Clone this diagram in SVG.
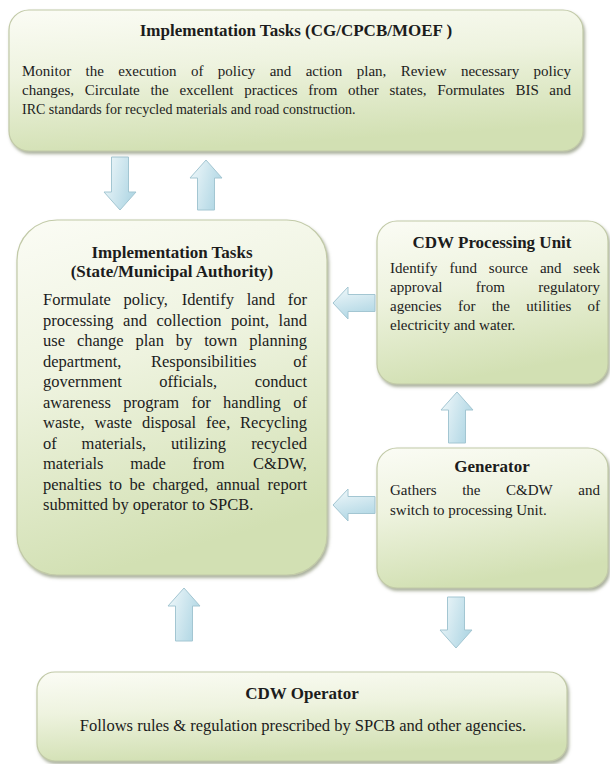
<svg xmlns="http://www.w3.org/2000/svg" width="610" height="764" viewBox="0 0 610 764">
<style>
.box{fill:url(#gb);stroke:#c2caa8;stroke-width:1.2;filter:url(#sh)}
.t{font-family:"Liberation Serif","Times New Roman",serif;font-size:15px;fill:#1c1c1c}
.l{font-size:16.5px}
.h{font-family:"Liberation Serif","Times New Roman",serif;font-size:17px;font-weight:bold;fill:#1c1c1c;text-anchor:middle}
.e{text-anchor:end}
.av{fill:url(#gv);stroke:#a3c6d2;stroke-width:1}
.ah{fill:url(#gh);stroke:#a3c6d2;stroke-width:1}
</style>
<defs>
<linearGradient id="gb" x1="0" y1="0" x2="0.25" y2="1">
<stop offset="0" stop-color="#fbfcf5"/>
<stop offset="0.45" stop-color="#eef3df"/>
<stop offset="1" stop-color="#d2e0b3"/>
</linearGradient>
<linearGradient id="gv" x1="0" y1="0" x2="1" y2="0.4">
<stop offset="0" stop-color="#f2f9fb"/>
<stop offset="1" stop-color="#b3d8e5"/>
</linearGradient>
<linearGradient id="gh" x1="0" y1="0" x2="0.3" y2="1">
<stop offset="0" stop-color="#f2f9fb"/>
<stop offset="1" stop-color="#b3d8e5"/>
</linearGradient>
<filter id="sh" x="-5%" y="-5%" width="112%" height="115%">
<feDropShadow dx="1.5" dy="2.5" stdDeviation="1.5" flood-color="#7d8769" flood-opacity="0.65"/>
</filter>
</defs>

<g id="connectors">
<path class="av" d="M111.5,157 H128.5 V192 H136 L120,210 L104,192 H111.5 Z"/>
<path class="av" d="M197.5,210 H214.5 V178 H222 L206,160 L190,178 H197.5 Z"/>
<path class="ah" d="M375,294.5 V311.5 H348 V319 L333,303 L348,287 V294.5 Z"/>
<path class="ah" d="M375,496.5 V513.5 H348 V521 L333,505 L348,489 V496.5 Z"/>
<path class="av" d="M448.5,443 H465.5 V410 H473 L457,392 L441,410 H448.5 Z"/>
<path class="av" d="M175.5,641 H192.5 V606 H200 L184,588 L168,606 H175.5 Z"/>
<path class="av" d="M447.5,597 H464.5 V630 H472 L456,648 L440,630 H447.5 Z"/>
</g>

<g id="central-tasks">
<rect class="box" x="9" y="10" width="574" height="141" rx="20"/>
<text class="h" x="296" y="36">Implementation Tasks (CG/CPCB/MOEF )</text>
<text class="t" y="76"><tspan x="22">Monitor</tspan><tspan x="85.6">the</tspan><tspan x="118.2">execution</tspan><tspan x="190.9">of</tspan><tspan x="217.8">policy</tspan><tspan x="269.7">and</tspan><tspan x="305.7">action</tspan><tspan x="356.8">plan,</tspan><tspan x="400.7">Review</tspan><tspan x="460.9">necessary</tspan><tspan class="e" x="571">policy</tspan></text>
<text class="t" y="95"><tspan x="22">changes,</tspan><tspan x="84.8">Circulate</tspan><tspan x="150.4">the</tspan><tspan x="179.4">excellent</tspan><tspan x="244.2">practices</tspan><tspan x="308.2">from</tspan><tspan x="348">other</tspan><tspan x="389.5">states,</tspan><tspan x="437.2">Formulates</tspan><tspan x="515.4">BIS</tspan><tspan class="e" x="571">and</tspan></text>
<text class="t" x="22" y="114" style="font-size:14px">IRC standards for recycled materials and road construction.</text>
</g>

<g id="state-tasks">
<rect class="box" x="17" y="220" width="310" height="355" rx="40"/>
<text class="h" x="172" y="258">Implementation Tasks</text>
<text class="h" x="172" y="277">(State/Municipal Authority)</text>
<text class="t l" y="305"><tspan x="43">Formulate</tspan><tspan x="123.6">policy,</tspan><tspan x="181.7">Identify</tspan><tspan x="246.7">land</tspan><tspan class="e" x="307">for</tspan></text>
<text class="t l" y="325.5"><tspan x="43">processing</tspan><tspan x="123.1">and</tspan><tspan x="156.4">collection</tspan><tspan x="231">point,</tspan><tspan class="e" x="307">land</tspan></text>
<text class="t l" y="346"><tspan x="43">use</tspan><tspan x="76.9">change</tspan><tspan x="135.5">plan</tspan><tspan x="175.8">by</tspan><tspan x="204.2">town</tspan><tspan class="e" x="307">planning</tspan></text>
<text class="t l" y="366.5"><tspan x="43">department,</tspan><tspan x="151">Responsibilities</tspan><tspan class="e" x="307">of</tspan></text>
<text class="t l" y="387"><tspan x="43">government</tspan><tspan x="159.2">officials,</tspan><tspan class="e" x="307">conduct</tspan></text>
<text class="t l" y="407.5"><tspan x="43">awareness</tspan><tspan x="123.2">program</tspan><tspan x="191.5">for</tspan><tspan x="223.1">handling</tspan><tspan class="e" x="307">of</tspan></text>
<text class="t l" y="428"><tspan x="43">waste,</tspan><tspan x="94.6">waste</tspan><tspan x="142">disposal</tspan><tspan x="206">fee,</tspan><tspan class="e" x="307">Recycling</tspan></text>
<text class="t l" y="448.5"><tspan x="43">of</tspan><tspan x="81.6">materials,</tspan><tspan x="171.1">utilizing</tspan><tspan class="e" x="307">recycled</tspan></text>
<text class="t l" y="469"><tspan x="43">materials</tspan><tspan x="130.2">made</tspan><tspan x="192.6">from</tspan><tspan class="e" x="307">C&amp;DW,</tspan></text>
<text class="t l" y="489.5"><tspan x="43">penalties</tspan><tspan x="109.1">to</tspan><tspan x="129.4">be</tspan><tspan x="152.4">charged,</tspan><tspan x="216.2">annual</tspan><tspan class="e" x="307">report</tspan></text>
<text class="t l" x="43" y="510">submitted by operator to SPCB.</text>
</g>

<g id="processing-unit">
<rect class="box" x="377" y="221" width="231" height="163" rx="20"/>
<text class="h" x="492" y="248">CDW Processing Unit</text>
<text class="t" y="273"><tspan x="390">Identify</tspan><tspan x="449.4">fund</tspan><tspan x="488.8">source</tspan><tspan x="539.9">and</tspan><tspan class="e" x="600">seek</tspan></text>
<text class="t" y="292"><tspan x="390">approval</tspan><tspan x="475.8">from</tspan><tspan class="e" x="600">regulatory</tspan></text>
<text class="t" y="311"><tspan x="390">agencies</tspan><tspan x="457.9">for</tspan><tspan x="491.7">the</tspan><tspan x="526.3">utilities</tspan><tspan class="e" x="600">of</tspan></text>
<text class="t" x="390" y="330">electricity and water.</text>
</g>

<g id="generator">
<rect class="box" x="377" y="448" width="231" height="140" rx="20"/>
<text class="h" x="492" y="472">Generator</text>
<text class="t" y="495"><tspan x="390">Gathers</tspan><tspan x="462.2">the</tspan><tspan x="506">C&amp;DW</tspan><tspan class="e" x="600">and</tspan></text>
<text class="t" x="390" y="515">switch to processing Unit.</text>
</g>

<g id="operator">
<rect class="box" x="37" y="672" width="530" height="89" rx="18"/>
<text class="h" x="302" y="699">CDW Operator</text>
<text class="t" x="303" y="731" style="font-size:16.5px;text-anchor:middle">Follows rules &amp; regulation prescribed by SPCB and other agencies.</text>
</g>
</svg>
